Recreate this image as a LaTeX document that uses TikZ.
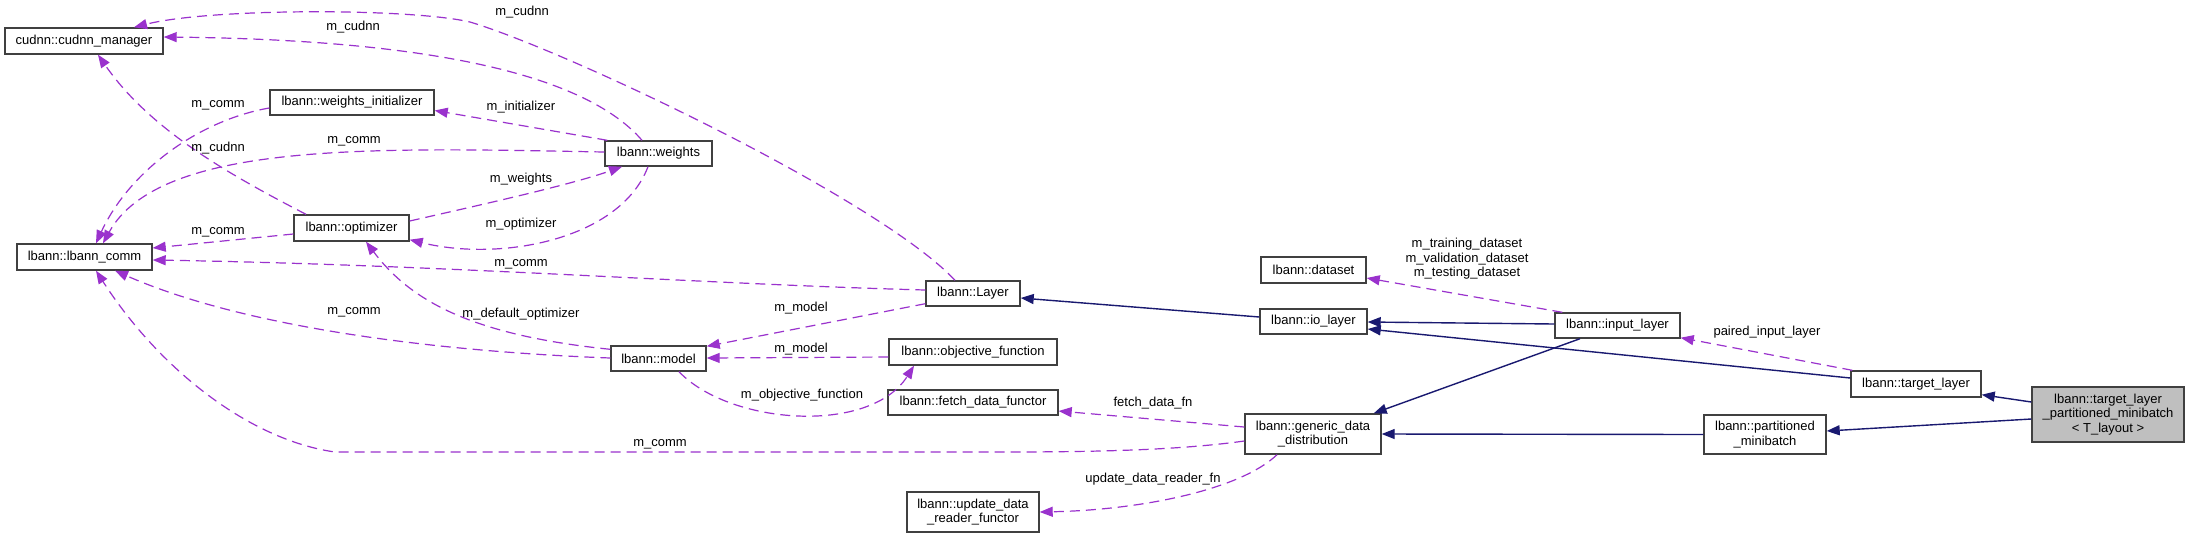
\documentclass[tikz,border=0pt]{standalone}
\usepackage{fontspec}
\setmainfont{Liberation Sans}
\usetikzlibrary{arrows.meta,calc}
\definecolor{edgepurple}{HTML}{9A32CD}
\definecolor{inhnavy}{HTML}{191970}
\definecolor{boxline}{HTML}{404040}
\definecolor{mainfill}{HTML}{BFBFBF}
\tikzset{
  box/.style={draw=boxline, line width=0.7pt, fill=white, inner sep=0pt, align=center, font=\fontsize{6.5pt}{7.25pt}\selectfont},
  uses/.style={draw=edgepurple, line width=0.6pt, dash pattern=on 5pt off 3pt, -{Triangle[length=6.5pt,width=5pt,fill=edgepurple]}},
  inherits/.style={draw=inhnavy, line width=0.7pt, -{Triangle[length=6.5pt,width=5pt,fill=inhnavy]}},
  lbl/.style={font=\fontsize{6.5pt}{7.25pt}\selectfont, inner sep=0pt, align=center}
}
\begin{document}
\begin{tikzpicture}[x=0.5pt,y=-0.5pt]
\useasboundingbox (0,0) rectangle (2189,537);
\fill[white] (0,0) rectangle (2189,537);

% nodes
\node[box, minimum width=79pt, minimum height=13pt] (cudnn) at (84,41) {cudnn::cudnn\_manager};
\node[box, minimum width=82pt, minimum height=12.5pt] (wi) at (352,102.5) {lbann::weights\_initializer};
\node[box, minimum width=53.5pt, minimum height=12.5pt] (weights) at (658.5,153.5) {lbann::weights};
\node[box, minimum width=57.5pt, minimum height=13pt] (opt) at (351.5,228) {lbann::optimizer};
\node[box, minimum width=67.5pt, minimum height=13pt] (comm) at (84.5,257) {lbann::lbann\_comm};
\node[box, minimum width=47.5pt, minimum height=12.5pt] (model) at (658.5,358.5) {lbann::model};
\node[box, minimum width=47pt, minimum height=12.5pt] (layer) at (973,293.5) {lbann::Layer};
\node[box, minimum width=52.5pt, minimum height=13pt] (dataset) at (1313.5,270) {lbann::dataset};
\node[box, minimum width=53.5pt, minimum height=12.5pt] (io) at (1313.5,321.5) {lbann::io\_layer};
\node[box, minimum width=84pt, minimum height=13pt] (objfn) at (973,352) {lbann::objective\_function};
\node[box, minimum width=85pt, minimum height=12.5pt] (fetch) at (973,402.5) {lbann::fetch\_data\_functor};
\node[box, minimum width=68pt, minimum height=20pt] (gdd) at (1313,434) {lbann::generic\_data\\\_distribution};
\node[box, minimum width=66pt, minimum height=20pt] (update) at (973,512) {lbann::update\_data\\\_reader\_functor};
\node[box, minimum width=62.5pt, minimum height=12.5pt] (input) at (1617.5,325.5) {lbann::input\_layer};
\node[box, minimum width=65pt, minimum height=13pt] (target) at (1916,384) {lbann::target\_layer};
\node[box, minimum width=61pt, minimum height=19.5pt] (pm) at (1765,434.5) {lbann::partitioned\\\_minibatch};
\node[box, minimum width=76pt, minimum height=27.5pt, fill=mainfill] (tlpm) at (2108,414.5) {lbann::target\_layer\\\_partitioned\_minibatch\\< T\_layout >};

% usage edges
\draw[uses] ($(layer.north)+(-18,0)$) .. controls (880,200) and (570,52) .. (470,22) .. controls (410,8) and (210,8) .. ($(cudnn.north)+(50,0)$);
\draw[uses] ($(weights.north)+(-16.5,0)$) .. controls (590,80) and (450,40) .. ($(cudnn.east)+(0,-4)$);
\draw[uses] ($(opt.north)+(-45.5,0)$) .. controls (230,175) and (150,130) .. ($(cudnn.south)+(14,0)$);
\draw[uses] ($(wi.west)+(0,5.5)$) .. controls (200,120) and (130,170) .. ($(comm.north)+(11.5,0)$);
\draw[uses] ($(weights.west)+(0,-1.5)$) .. controls (380,148) and (160,140) .. ($(comm.north)+(18.5,0)$);
\draw[uses] ($(weights.north west)+(3,0)$) -- ($(wi.east)+(0,8)$);
\draw[uses] ($(opt.east)+(0,-7)$) .. controls (480,205) and (570,185) .. ($(weights.south)+(-36.5,0)$);
\draw[uses] ($(weights.south)+(-10.5,0)$) .. controls (620,240) and (500,262) .. ($(opt.south east)+(0,-2)$);
\draw[uses] ($(opt.west)+(0,6)$) -- ($(comm.east)+(0,-9)$);
\draw[uses] ($(layer.west)+(0,-3.5)$) .. controls (700,284) and (450,265) .. ($(comm.east)+(0,3)$);
\draw[uses] ($(model.west)+(0,-0.5)$) .. controls (450,352) and (250,330) .. ($(comm.south)+(30.5,0)$);
\draw[uses] ($(model.north west)+(0,4)$) .. controls (470,335) and (410,300) .. ($(opt.south)+(14.5,0)$);
\draw[uses] ($(layer.south west)+(0,-3)$) -- ($(model.north east)+(0,1)$);
\draw[uses] ($(objfn.west)+(0,5)$) -- ($(model.east)+(0,-0.5)$);
\draw[uses] ($(model.south)+(20.5,0)$) .. controls (730,425) and (870,435) .. ($(objfn.south)+(-59,0)$);
\draw[uses] ($(gdd.west)+(0,7)$) .. controls (1180,450) and (1100,452) .. (1000,452) -- (335,452) .. controls (250,440) and (160,370) .. ($(comm.south)+(11.5,0)$);
\draw[uses] ($(gdd.west)+(0,-7)$) -- ($(fetch.east)+(0,8.5)$);
\draw[uses] ($(gdd.south)+(-36,0)$) .. controls (1240,490) and (1140,510) .. (update.east);
\draw[uses] ($(input.north west)+(8,0)$) -- ($(dataset.east)+(0,8)$);
\draw[uses] ($(target.north west)+(2,0)$) -- ($(input.south east)+(0,-1)$);

% inheritance edges
\draw[inherits] ($(io.west)+(0,-4.5)$) -- ($(layer.east)+(0,4.5)$);
\draw[inherits] ($(input.west)+(0,-1.5)$) -- ($(io.east)+(0,0.5)$);
\draw[inherits] ($(target.west)+(0,-6)$) -- ($(io.east)+(0,7.5)$);
\draw[inherits] ($(input.south)+(-37.5,0)$) -- ($(gdd.north east)+(-8,0)$);
\draw[inherits] (pm.west) -- (gdd.east);
\draw[inherits] ($(tlpm.west)+(0,-12.5)$) -- ($(target.south east)+(0,-3)$);
\draw[inherits] ($(tlpm.west)+(0,4.5)$) -- ($(pm.east)+(0,-3.5)$);

% edge labels
\node[lbl] (l1) at (522,12) {m\_cudnn};
\node[lbl] (l2) at (353,27) {m\_cudnn};
\node[lbl] (l3) at (218,105) {m\_comm};
\node[lbl] (l4) at (521,107) {m\_initializer};
\node[lbl] (l5) at (218,148) {m\_cudnn};
\node[lbl] (l6) at (354,141) {m\_comm};
\node[lbl] (l7) at (521,179) {m\_weights};
\node[lbl] (l8) at (521,224) {m\_optimizer};
\node[lbl] (l9) at (218,232) {m\_comm};
\node[lbl] (l10) at (521,264) {m\_comm};
\node[lbl] (l11) at (354,312) {m\_comm};
\node[lbl] (l12) at (521,314) {m\_default\_optimizer};
\node[lbl] (l13) at (660,444) {m\_comm};
\node[lbl] (l14) at (801,308) {m\_model};
\node[lbl] (l15) at (801,349) {m\_model};
\node[lbl] (l16) at (802,395) {m\_objective\_function};
\node[lbl] (l17) at (1153,403) {fetch\_data\_fn};
\node[lbl] (l18) at (1153,479) {update\_data\_reader\_fn};
\node[lbl] (l19) at (1467,259) {m\_training\_dataset\\m\_validation\_dataset\\m\_testing\_dataset};
\node[lbl] (l20) at (1767,332) {paired\_input\_layer};
\end{tikzpicture}
\end{document}
